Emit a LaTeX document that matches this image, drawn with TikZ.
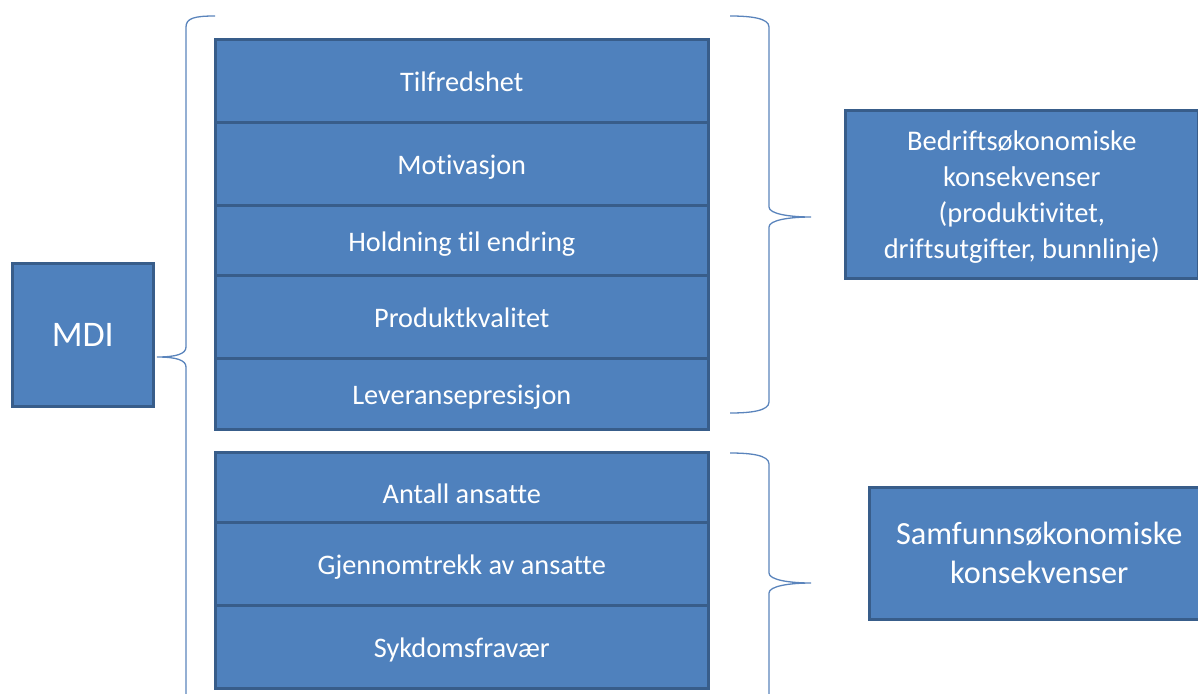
\documentclass[tikz,border=0pt]{standalone}
\usepackage{fontspec}
\setmainfont{Carlito}[Ligatures={NoCommon,NoContextual,NoRare}]
\definecolor{cellfill}{HTML}{4F81BD}
\definecolor{celledge}{HTML}{385D8A}
\definecolor{bracecol}{HTML}{5A84BC}
% lower a block of lines without changing its reported size
\newcommand{\lowered}[2]{\raisebox{-#1}[\height][\depth]{%
  \begin{tabular}{@{}c@{}}#2\end{tabular}}}
\begin{document}
\begin{tikzpicture}[x=1pt,y=-1pt,
  cell/.style={draw=celledge, fill=cellfill, line width=2.6pt, text=white,
    inner sep=0pt, anchor=north west, align=center, minimum width=493pt,
    text height=22pt, text depth=0pt,
    font=\fontsize{28.3}{34}\selectfont},
  bigbox/.style={draw=celledge, fill=cellfill, line width=2.6pt, text=white,
    inner sep=0pt, anchor=north west, align=center},
  brace/.style={draw=bracecol, line width=1.3pt}]
\useasboundingbox (0,0) rectangle (1198,693);

% MDI
\node[bigbox, minimum width=141pt, minimum height=143pt,
      font=\fontsize{36}{40}\selectfont] (mdi) at (11,262) {MDI};

% upper stack
\node[cell, minimum height=83pt] (r1) at (214,38)  {Tilfredshet};
\node[cell, minimum height=83pt] (r2) at (214,121) {Motivasjon};
\node[cell, minimum height=70pt] (r3) at (214,204) {Holdning til endring};
\node[cell, minimum height=83pt] (r4) at (214,274) {Produktkvalitet};
\node[cell, minimum height=71pt] (r5) at (214,357) {Leveransepresisjon};

% lower stack
\node[cell, minimum height=70pt, text height=32pt] (s1) at (214,451) {Antall ansatte};
\node[cell, minimum height=83pt] (s2) at (214,521) {Gjennomtrekk av ansatte};
\node[cell, minimum height=83pt] (s3) at (214,604) {Sykdomsfravær};

% consequence boxes
\node[bigbox, minimum width=353pt, minimum height=168pt,
      font=\fontsize{28.5}{36}\selectfont] (bed) at (844,109)
  {\lowered{3pt}{Bedriftsøkonomiske\\konsekvenser\\(produktivitet,\\driftsutgifter, bunnlinje)}};
\node[bigbox, minimum width=340pt, minimum height=132pt,
      font=\fontsize{32.3}{39}\selectfont] (sam) at (868,486)
  {Samfunnsøkonomiske\\konsekvenser};

% brace tips
\coordinate (lt) at (157,357);
\coordinate (rt1) at (811,217);
\coordinate (rt2) at (811,583);

% left brace
\draw[brace] (215,16) .. controls (195,16) and (186,18) .. (186,27)
  -- (186,347) .. controls (186,354) and (176,357) .. (lt)
  .. controls (176,357) and (186,360) .. (186,367) -- (186,720);

% right brace of upper stack
\draw[brace] (730,16) .. controls (750,16) and (769,18) .. (769,27)
  -- (769,207) .. controls (769,214) and (790,217) .. (rt1)
  .. controls (790,217) and (769,220) .. (769,227)
  -- (769,402) .. controls (769,411) and (750,413) .. (730,413);

% right brace of lower stack
\draw[brace] (730,453) .. controls (750,453) and (769,455) .. (769,464)
  -- (769,573) .. controls (769,580) and (790,583) .. (rt2)
  .. controls (790,583) and (769,586) .. (769,593) -- (769,720);
\end{tikzpicture}
\end{document}
